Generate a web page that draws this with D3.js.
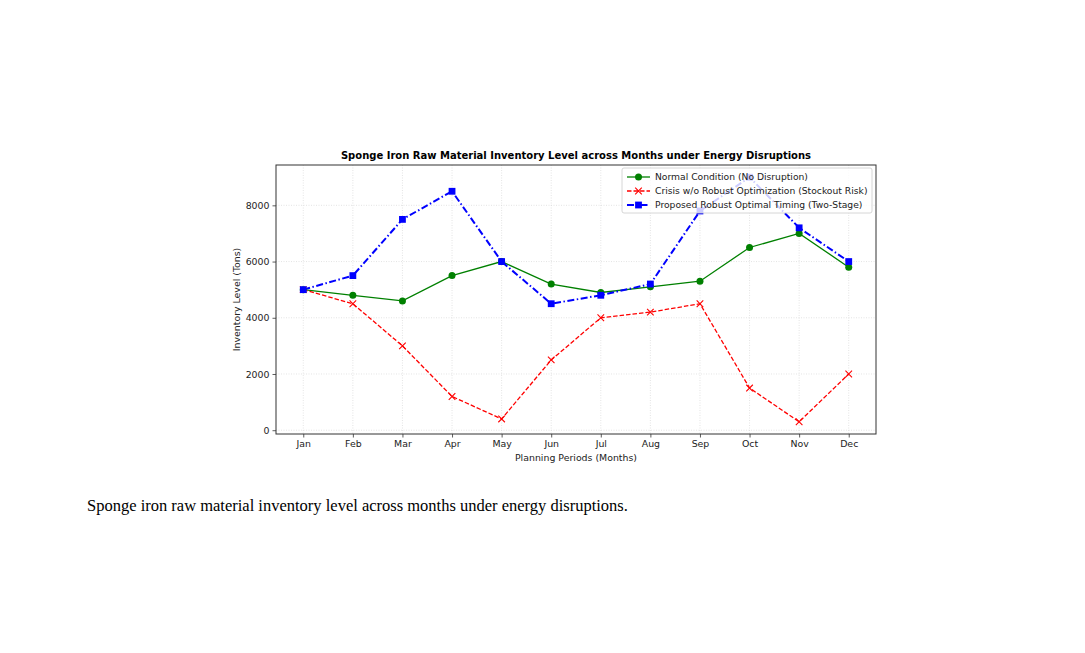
<!DOCTYPE html>
<html>
<head>
<meta charset="utf-8">
<script src="https://cdn.jsdelivr.net/npm/d3@7"></script>
<style>
  body { margin: 0; background: #fff; }
  svg { display: block; }
</style>
</head>
<body>
<div id="wrapper"></div>
<script>
// data
const months = ["Jan", "Feb", "Mar", "Apr", "May", "Jun", "Jul", "Aug", "Sep", "Oct", "Nov", "Dec"];
const normalValues = [5000, 4800, 4600, 5500, 6000, 5200, 4900, 5100, 5300, 6500, 7000, 5800];
const crisisValues = [5000, 4500, 3000, 1200, 400, 2500, 4000, 4200, 4500, 1500, 300, 2000];
const robustValues = [5000, 5500, 7500, 8500, 6000, 4500, 4800, 5200, 7800, 9000, 7200, 6000];
const yTicks = [0, 2000, 4000, 6000, 8000];

const seriesNames = [
  "Normal Condition (No Disruption)",
  "Crisis w/o Robust Optimization (Stockout Risk)",
  "Proposed Robust Optimal Timing (Two-Stage)",
];

function drawChart() {
  const width = 1085;
  const height = 653;
  const plot = { left: 276, right: 876, top: 165, bottom: 434 };

  const series = [
    { name: seriesNames[0], values: normalValues, color: "green", dash: null, width: 1.3, marker: "circle" },
    { name: seriesNames[1], values: crisisValues, color: "red", dash: "4.5,2", width: 1.3, marker: "x" },
    { name: seriesNames[2], values: robustValues, color: "blue", dash: "7,2.5,1.5,2.5", width: 2, marker: "square" },
  ];

  const svg = d3.select("#wrapper").append("svg")
    .attr("width", width)
    .attr("height", height);

  // scales, matplotlib style 5% padding
  const xScale = d3.scaleLinear()
    .domain([-0.55, months.length - 1 + 0.55])
    .range([plot.left, plot.right]);

  const allValues = normalValues.concat(crisisValues, robustValues);
  const yMin = d3.min(allValues), yMax = d3.max(allValues);
  const pad = (yMax - yMin) * 0.05;
  const yScale = d3.scaleLinear()
    .domain([yMin - pad, yMax + pad])
    .range([plot.bottom, plot.top]);

  // grid
  const grid = svg.append("g");
  grid.selectAll(".gx").data(months).join("line")
    .attr("x1", (d, i) => xScale(i)).attr("x2", (d, i) => xScale(i))
    .attr("y1", plot.top).attr("y2", plot.bottom)
    .attr("stroke", "#d8d8d8").attr("stroke-width", 0.7).attr("stroke-dasharray", "1,1.5");
  grid.selectAll(".gy").data(yTicks).join("line")
    .attr("x1", plot.left).attr("x2", plot.right)
    .attr("y1", d => yScale(d)).attr("y2", d => yScale(d))
    .attr("stroke", "#d8d8d8").attr("stroke-width", 0.7).attr("stroke-dasharray", "1,1.5");

  // axes
  const xAxis = d3.axisBottom(xScale)
    .tickValues(d3.range(months.length))
    .tickFormat(i => months[i])
    .tickSize(3.5).tickPadding(3);
  const yAxis = d3.axisLeft(yScale)
    .tickValues(yTicks)
    .tickFormat(d3.format("d"))
    .tickSize(3.5).tickPadding(3);

  const gx = svg.append("g")
    .attr("transform", `translate(0,${plot.bottom})`)
    .call(xAxis);
  const gy = svg.append("g")
    .attr("transform", `translate(${plot.left},0)`)
    .call(yAxis);
  [gx, gy].forEach(g => {
    g.select(".domain").remove();
    g.selectAll(".tick line").attr("stroke", "#333").attr("stroke-width", 0.8);
    g.selectAll(".tick text")
      .attr("fill", "#222")
      .style("font-family", "DejaVu Sans")
      .style("font-size", "9.4px");
  });

  // lines
  const line = d3.line()
    .x((d, i) => xScale(i))
    .y(d => yScale(d));

  const lines = svg.append("g");
  series.forEach(s => {
    lines.append("path")
      .datum(s.values)
      .attr("d", line)
      .attr("fill", "none")
      .attr("stroke", s.color)
      .attr("stroke-width", s.width)
      .attr("stroke-dasharray", s.dash);
  });

  function drawMarker(g, type, x, y, color) {
    if (type === "circle") {
      g.append("circle").attr("cx", x).attr("cy", y).attr("r", 3.5).attr("fill", color);
    } else if (type === "square") {
      g.append("rect").attr("x", x - 3.4).attr("y", y - 3.4)
        .attr("width", 6.8).attr("height", 6.8).attr("fill", color);
    } else {
      const r = 3.3;
      g.append("path")
        .attr("d", `M${x - r},${y - r}L${x + r},${y + r}M${x - r},${y + r}L${x + r},${y - r}`)
        .attr("stroke", color).attr("stroke-width", 1.1);
    }
  }

  const markers = svg.append("g");
  series.forEach(s => {
    s.values.forEach((v, i) => drawMarker(markers, s.marker, xScale(i), yScale(v), s.color));
  });

  // frame
  svg.append("rect")
    .attr("x", plot.left).attr("y", plot.top)
    .attr("width", plot.right - plot.left).attr("height", plot.bottom - plot.top)
    .attr("fill", "none").attr("stroke", "#333").attr("stroke-width", 1);

  // legend
  const legend = svg.append("g").attr("transform", "translate(622,168)");
  legend.append("rect")
    .attr("width", 250).attr("height", 45).attr("rx", 2)
    .attr("fill", "white").attr("fill-opacity", 0.8)
    .attr("stroke", "#ccc").attr("stroke-width", 0.8);
  series.forEach((s, i) => {
    const row = legend.append("g").attr("transform", `translate(0,${9 + i * 14})`);
    row.append("line")
      .attr("x1", 5).attr("x2", 28).attr("y1", 0).attr("y2", 0)
      .attr("stroke", s.color).attr("stroke-width", s.width)
      .attr("stroke-dasharray", s.dash);
    drawMarker(row, s.marker, 16.5, 0, s.color);
    row.append("text")
      .attr("x", 33).attr("y", 3.3)
      .attr("fill", "#222")
      .style("font-family", "DejaVu Sans")
      .style("font-size", "9.2px")
      .text(s.name);
  });

  // labels
  svg.append("text")
    .attr("x", (plot.left + plot.right) / 2).attr("y", 159)
    .attr("text-anchor", "middle")
    .style("font-family", "DejaVu Sans").style("font-size", "10px").style("font-weight", "bold")
    .text("Sponge Iron Raw Material Inventory Level across Months under Energy Disruptions");

  svg.append("text")
    .attr("x", (plot.left + plot.right) / 2).attr("y", 461)
    .attr("text-anchor", "middle").attr("fill", "#222")
    .style("font-family", "DejaVu Sans").style("font-size", "9.4px")
    .text("Planning Periods (Months)");

  svg.append("text")
    .attr("transform", `translate(240,${(plot.top + plot.bottom) / 2}) rotate(-90)`)
    .attr("text-anchor", "middle").attr("fill", "#222")
    .style("font-family", "DejaVu Sans").style("font-size", "9.4px")
    .text("Inventory Level (Tons)");

  // caption below figure
  svg.append("text")
    .attr("x", 87).attr("y", 511)
    .style("font-family", "Liberation Serif").style("font-size", "16.5px")
    .text("Sponge iron raw material inventory level across months under energy disruptions.");
}
drawChart();
</script>
</body>
</html>
